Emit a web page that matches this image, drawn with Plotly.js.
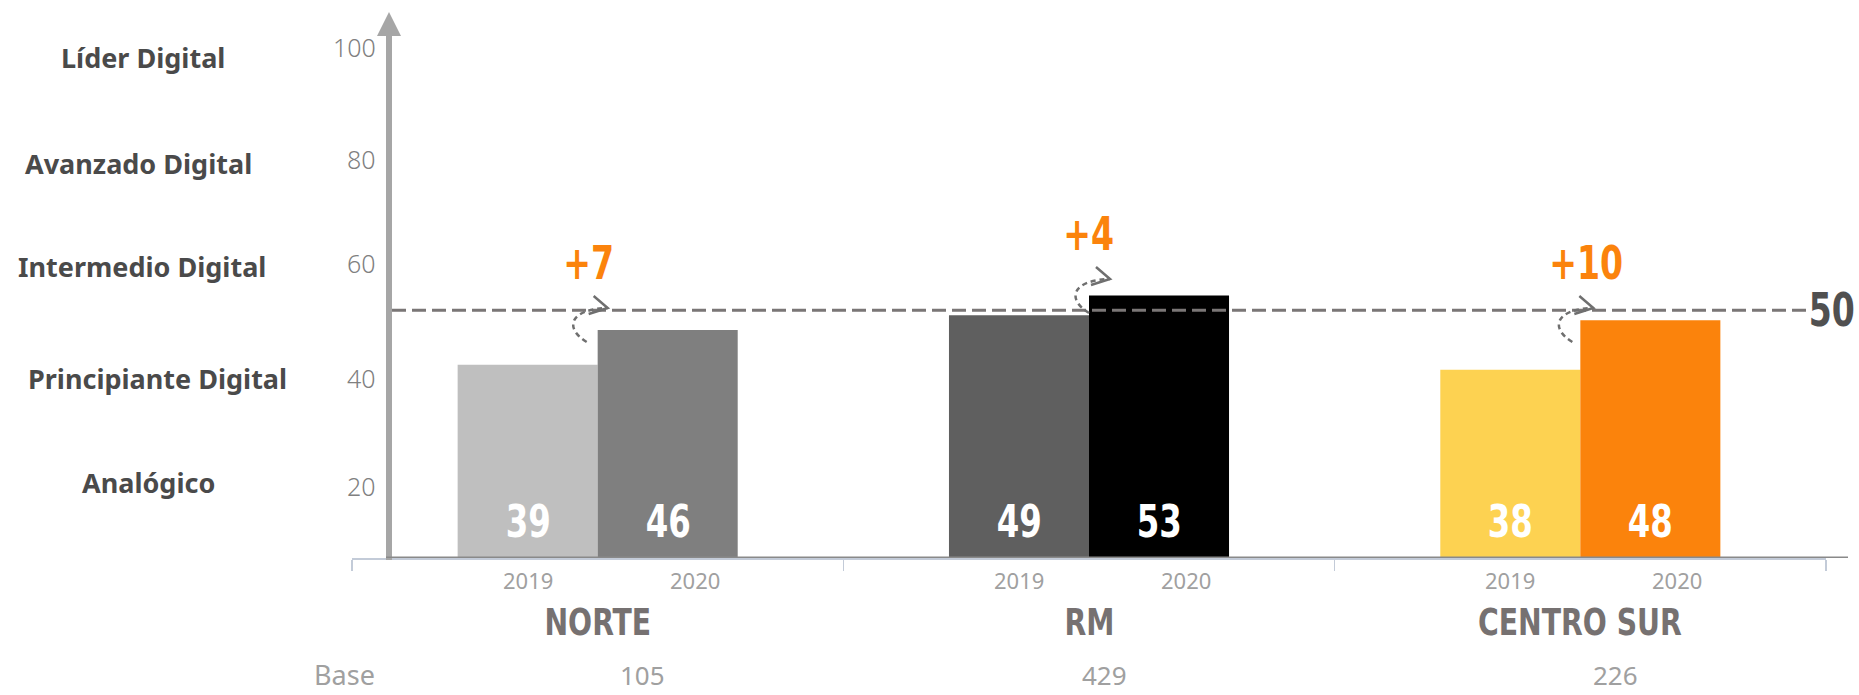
<!DOCTYPE html>
<html>
<head>
<meta charset="utf-8">
<script src="https://cdn.plot.ly/plotly-3.0.1.min.js"></script>
<style>html,body{margin:0;padding:0;background:#fff;}#chart{width:1859px;height:695px;}</style>
</head>
<body>
<div id="chart"></div>
<script>
// ---------- data ----------
const categories = ['NORTE', 'RM', 'CENTRO SUR'];
const years = ['2019', '2020'];
const values2019 = [39, 49, 38];
const values2020 = [46, 53, 48];
const changes = ['+7', '+4', '+10'];
const bases = ['105', '429', '226'];
const benchmark = 50;
const levelNames = ['Líder Digital', 'Avanzado Digital', 'Intermedio Digital', 'Principiante Digital', 'Analógico'];
const levelTicks = ['100', '80', '60', '40', '20'];

// ---------- styles ----------
const colors2019 = ['#bfbfbf', '#5f5f5f', '#fdd251'];
const colors2020 = ['#7f7f7f', '#000000', '#fb830c'];
const NARROW = "'DejaVu Sans Condensed', 'Liberation Sans Narrow', sans-serif";
const SANS = "'Noto Sans', 'Open Sans', sans-serif";

const W = 1859, H = 695, ML = 352, MR = 33, MT = 13, MB = 137;
const PW = W - ML - MR, PH = H - MT - MB;
const px = x => (x - ML) / PW;          // pixel x -> paper
const py = y => (H - MB - y) / PH;      // pixel y -> paper
const catW = PW / categories.length;
const cx = i => ML + (i + 0.5) * catW;  // category centre, pixels

const levelNameX = [143, 138, 142, 158, 148];
const levelRowY = [58, 163, 266, 378, 483];
const tickRowY = [47, 159, 263, 378, 486];
const changeY = [59.5, 65.4, 59.5];
const changeShift = [-9, -1, 6];
const baseShift = [45, 15, 35];
const arrowEnd = [[cx(0) + 10, 308], [cx(1) + 21, 279], [cx(2) + 13, 308]];

const traces = [
  { type: 'bar', name: years[0], x: categories, y: values2019, marker: { color: colors2019 }, hoverinfo: 'x+y' },
  { type: 'bar', name: years[1], x: categories, y: values2020, marker: { color: colors2020 }, hoverinfo: 'x+y' }
];

const shapes = [
  { type: 'line', xref: 'paper', yref: 'paper', x0: px(389), x1: px(389), y0: py(560), y1: py(30),
    line: { color: '#a6a6a6', width: 6 } },
  { type: 'path', xref: 'paper', yref: 'paper',
    path: `M ${px(377)} ${py(36)} L ${px(389)} ${py(12)} L ${px(401)} ${py(36)} Z`,
    fillcolor: '#a6a6a6', line: { width: 0 } },
  { type: 'line', xref: 'paper', yref: 'y', x0: px(386), x1: px(1848), y0: 0, y1: 0,
    line: { color: '#898989', width: 3 } },
  { type: 'line', xref: 'paper', yref: 'y', x0: px(392), x1: px(1812), y0: benchmark, y1: benchmark,
    line: { color: '#7a7676', width: 3, dash: '14px,6px' } }
];

arrowEnd.forEach(([ex, ey]) => {
  const sx = ex - 21, sy = ey + 34;
  shapes.push({ type: 'path', xref: 'paper', yref: 'paper',
    path: `M ${px(sx)} ${py(sy)} C ${px(ex - 44)} ${py(ey + 20)}, ${px(ex - 38)} ${py(ey + 1)}, ${px(ex)} ${py(ey)}`,
    line: { color: '#6f6f6f', width: 2.5, dash: '5px,4px' } });
  shapes.push({ type: 'path', xref: 'paper', yref: 'paper',
    path: `M ${px(ex - 14)} ${py(ey - 12)} L ${px(ex)} ${py(ey)} L ${px(ex - 19)} ${py(ey + 6)}`,
    line: { color: '#6f6f6f', width: 2.5 } });
});

const A = (o) => Object.assign({ showarrow: false, xanchor: 'center', yanchor: 'middle' }, o);
const ann = [];
categories.forEach((c, i) => {
  [values2019[i], values2020[i]].forEach((v, k) => {
    ann.push(A({ x: c, xref: 'x', y: 7.3, yref: 'y', xshift: k === 0 ? -70 : 70, text: String(v),
      font: { family: NARROW, size: 45, color: '#ffffff', weight: 'bold' } }));
    ann.push(A({ x: c, xref: 'x', y: py(580), yref: 'paper', xshift: k === 0 ? -70 : 97, text: years[k],
      font: { family: SANS, size: 22, color: '#a0a0a0' } }));
  });
  ann.push(A({ x: c, xref: 'x', y: changeY[i], yref: 'y', xshift: changeShift[i], text: changes[i],
    font: { family: NARROW, size: 46, color: '#fb830c', weight: 'bold' } }));
  ann.push(A({ x: c, xref: 'x', y: py(622), yref: 'paper', text: c,
    font: { family: NARROW, size: 37, color: '#767171', weight: 'bold' } }));
  ann.push(A({ x: c, xref: 'x', y: py(694), yref: 'paper', yanchor: 'bottom', xshift: baseShift[i], text: bases[i],
    borderpad: 0, font: { family: SANS, size: 26, color: '#a0a0a0' } }));
});
ann.push(A({ x: px(344), xref: 'paper', y: py(694), yref: 'paper', yanchor: 'bottom', text: 'Base',
  borderpad: 0, font: { family: SANS, size: 27, color: '#a0a0a0' } }));
ann.push(A({ x: px(1832), xref: 'paper', y: benchmark, yref: 'y', text: String(benchmark),
  font: { family: NARROW, size: 46, color: '#505050', weight: 'bold' } }));
levelNames.forEach((n, i) => {
  ann.push(A({ x: px(levelNameX[i]), xref: 'paper', y: py(levelRowY[i]), yref: 'paper', text: n,
    font: { family: SANS, size: 27, color: '#4a4a4a', weight: 'bold' } }));
  ann.push(A({ x: px(378), xref: 'paper', xanchor: 'right', y: py(tickRowY[i]), yref: 'paper', text: levelTicks[i],
    font: { family: SANS, size: 25, color: '#808080', weight: 300 } }));
});

const layout = {
  width: W, height: H,
  margin: { l: ML, r: MR, t: MT, b: MB, pad: 0 },
  paper_bgcolor: '#ffffff', plot_bgcolor: '#ffffff',
  showlegend: false,
  barmode: 'group', bargap: 0.43, bargroupgap: 0,
  xaxis: { type: 'category', range: [-0.5, 2.5], showline: true, linecolor: '#c3cbd8', linewidth: 1.5,
    ticks: 'outside', tickson: 'boundaries', ticklen: 11, tickcolor: '#c3cbd8', tickwidth: 1.5,
    showticklabels: false, showgrid: false, zeroline: false, fixedrange: true },
  yaxis: { range: [0, 110], showline: false, showgrid: false, zeroline: false, showticklabels: false,
    ticks: '', fixedrange: true },
  shapes: shapes,
  annotations: ann
};

Plotly.newPlot('chart', traces, layout, { displayModeBar: false, staticPlot: true }).then(gd => {
  // condense the narrow-font texts horizontally (Arial Narrow look)
  gd.querySelectorAll('text.annotation-text').forEach(t => {
    if ((t.style.fontFamily || '').indexOf('Condensed') < 0) return;
    const numeric = /^[+0-9]+$/.test(t.textContent.trim());
    t.style.transformBox = 'fill-box';
    t.style.transformOrigin = 'center';
    t.style.transform = `scaleX(${numeric ? 0.8 : 0.85})`;
  });
});
</script>
</body>
</html>
